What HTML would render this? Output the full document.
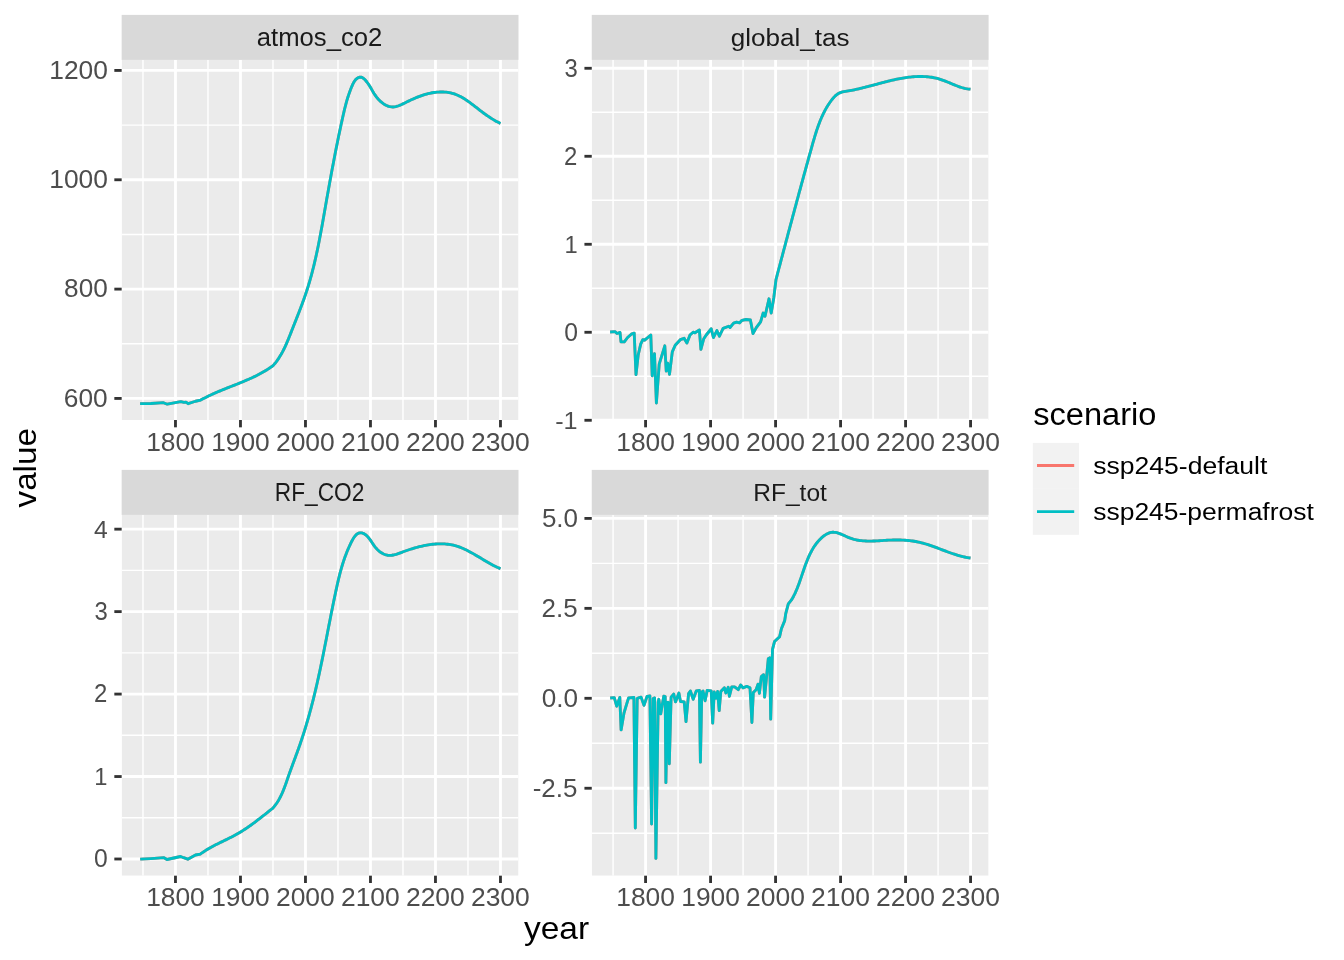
<!DOCTYPE html><html><head><meta charset="utf-8"><title>ggplot facets</title><style>html,body{margin:0;padding:0;background:#fff;}svg{display:block;will-change:transform;}text{font-family:"Liberation Sans",sans-serif;}</style></head><body>
<svg width="1344" height="960" viewBox="0 0 1344 960">
<rect x="0" y="0" width="1344" height="960" fill="#fff"/>
<clipPath id="clip1"><rect x="121.66" y="59.9" width="396.84" height="360.1"/></clipPath>
<rect x="121.66" y="14.9" width="396.84" height="45" fill="#D9D9D9"/>
<g clip-path="url(#clip1)">
<rect x="121.66" y="59.9" width="396.84" height="360.1" fill="#EBEBEB"/>
<line x1="121.66" x2="518.5" y1="343.77" y2="343.77" stroke="#fff" stroke-width="1.42"/>
<line x1="121.66" x2="518.5" y1="234.44" y2="234.44" stroke="#fff" stroke-width="1.42"/>
<line x1="121.66" x2="518.5" y1="125.11" y2="125.11" stroke="#fff" stroke-width="1.42"/>
<line x1="142.97" x2="142.97" y1="59.9" y2="420" stroke="#fff" stroke-width="1.42"/>
<line x1="207.97" x2="207.97" y1="59.9" y2="420" stroke="#fff" stroke-width="1.42"/>
<line x1="272.97" x2="272.97" y1="59.9" y2="420" stroke="#fff" stroke-width="1.42"/>
<line x1="337.97" x2="337.97" y1="59.9" y2="420" stroke="#fff" stroke-width="1.42"/>
<line x1="402.97" x2="402.97" y1="59.9" y2="420" stroke="#fff" stroke-width="1.42"/>
<line x1="467.97" x2="467.97" y1="59.9" y2="420" stroke="#fff" stroke-width="1.42"/>
<line x1="121.66" x2="518.5" y1="398.44" y2="398.44" stroke="#fff" stroke-width="2.84"/>
<line x1="121.66" x2="518.5" y1="289.11" y2="289.11" stroke="#fff" stroke-width="2.84"/>
<line x1="121.66" x2="518.5" y1="179.77" y2="179.77" stroke="#fff" stroke-width="2.84"/>
<line x1="121.66" x2="518.5" y1="70.44" y2="70.44" stroke="#fff" stroke-width="2.84"/>
<line x1="175.47" x2="175.47" y1="59.9" y2="420" stroke="#fff" stroke-width="2.84"/>
<line x1="240.47" x2="240.47" y1="59.9" y2="420" stroke="#fff" stroke-width="2.84"/>
<line x1="305.47" x2="305.47" y1="59.9" y2="420" stroke="#fff" stroke-width="2.84"/>
<line x1="370.47" x2="370.47" y1="59.9" y2="420" stroke="#fff" stroke-width="2.84"/>
<line x1="435.47" x2="435.47" y1="59.9" y2="420" stroke="#fff" stroke-width="2.84"/>
<line x1="500.47" x2="500.47" y1="59.9" y2="420" stroke="#fff" stroke-width="2.84"/>
<path d="M140.1 403.6 L150.9 403.5 L163.5 402.7 L167.25 404.2 L180.8 401.6 L183.9 402.4 L186 402.2 L188.1 403.7 L195.5 401.25 L200.7 400.1 L202.05 399.35 L203.41 398.61 L204.77 397.89 L206.15 397.19 L207.53 396.5 L208.92 395.82 L210.31 395.16 L211.71 394.51 L213.11 393.87 L214.52 393.24 L215.94 392.62 L217.35 392.01 L218.78 391.41 L220.2 390.82 L221.63 390.23 L223.06 389.64 L224.49 389.07 L225.93 388.49 L227.37 387.92 L228.8 387.35 L230.24 386.79 L231.68 386.22 L233.12 385.66 L234.56 385.09 L236 384.52 L237.44 383.95 L238.87 383.38 L240.3 382.8 L241.73 382.22 L243.16 381.63 L244.59 381.03 L246.01 380.43 L247.43 379.82 L248.84 379.2 L250.25 378.57 L251.65 377.93 L253.05 377.28 L254.44 376.62 L255.83 375.94 L257.21 375.25 L258.58 374.55 L259.94 373.83 L261.3 373.09 L262.65 372.34 L263.99 371.57 L265.32 370.78 L266.64 369.97 L267.96 369.14 L269.26 368.29 L270.55 367.41 L271.83 366.52 L273.1 365.6 L274.11 364.44 L275.08 363.26 L276.02 362.06 L276.93 360.84 L277.8 359.61 L278.65 358.36 L279.46 357.1 L280.25 355.82 L281.02 354.53 L281.76 353.22 L282.48 351.91 L283.17 350.58 L283.85 349.24 L284.51 347.89 L285.15 346.53 L285.78 345.17 L286.39 343.8 L286.99 342.42 L287.58 341.03 L288.16 339.64 L288.73 338.24 L289.29 336.84 L289.85 335.44 L290.41 334.03 L290.96 332.62 L291.51 331.22 L292.06 329.81 L292.62 328.4 L293.17 326.99 L293.73 325.58 L294.29 324.18 L294.84 322.77 L295.4 321.36 L295.96 319.95 L296.51 318.54 L297.07 317.14 L297.62 315.73 L298.17 314.32 L298.72 312.91 L299.27 311.5 L299.82 310.09 L300.36 308.67 L300.89 307.26 L301.43 305.84 L301.96 304.43 L302.48 303.01 L303 301.59 L303.51 300.17 L304.02 298.75 L304.53 297.33 L305.02 295.91 L305.51 294.48 L305.99 293.05 L306.47 291.62 L306.94 290.19 L307.4 288.75 L307.85 287.32 L308.3 285.88 L308.73 284.44 L309.17 283 L309.59 281.55 L310.01 280.11 L310.42 278.66 L310.83 277.21 L311.22 275.76 L311.62 274.3 L312 272.85 L312.39 271.39 L312.76 269.94 L313.13 268.48 L313.49 267.02 L313.85 265.55 L314.21 264.09 L314.56 262.63 L314.9 261.16 L315.24 259.69 L315.58 258.22 L315.91 256.75 L316.23 255.28 L316.55 253.81 L316.87 252.34 L317.19 250.86 L317.5 249.39 L317.8 247.91 L318.11 246.43 L318.41 244.95 L318.7 243.47 L319 241.99 L319.29 240.51 L319.57 239.03 L319.86 237.55 L320.14 236.06 L320.42 234.58 L320.7 233.09 L320.98 231.61 L321.25 230.12 L321.52 228.64 L321.79 227.15 L322.06 225.66 L322.33 224.17 L322.6 222.69 L322.86 221.2 L323.12 219.71 L323.39 218.22 L323.65 216.73 L323.91 215.24 L324.17 213.75 L324.44 212.26 L324.7 210.77 L324.96 209.28 L325.22 207.79 L325.48 206.3 L325.74 204.81 L326 203.32 L326.27 201.83 L326.53 200.34 L326.79 198.85 L327.06 197.36 L327.32 195.87 L327.59 194.38 L327.85 192.89 L328.12 191.4 L328.39 189.91 L328.65 188.42 L328.92 186.93 L329.19 185.44 L329.46 183.96 L329.73 182.47 L330 180.98 L330.27 179.49 L330.54 178.01 L330.82 176.52 L331.09 175.03 L331.36 173.55 L331.64 172.06 L331.92 170.57 L332.19 169.09 L332.47 167.6 L332.75 166.12 L333.03 164.64 L333.31 163.15 L333.6 161.67 L333.88 160.19 L334.16 158.71 L334.45 157.22 L334.74 155.74 L335.02 154.26 L335.31 152.78 L335.6 151.3 L335.9 149.82 L336.19 148.35 L336.48 146.87 L336.78 145.39 L337.08 143.92 L337.37 142.44 L337.67 140.96 L337.97 139.49 L338.28 138.02 L338.58 136.54 L338.88 135.07 L339.19 133.6 L339.5 132.13 L339.81 130.66 L340.12 129.19 L340.43 127.72 L340.75 126.25 L341.06 124.79 L341.38 123.32 L341.7 121.86 L342.02 120.39 L342.34 118.93 L342.67 117.46 L343 116 L343.33 114.54 L343.66 113.08 L344 111.62 L344.35 110.16 L344.7 108.7 L345.07 107.25 L345.44 105.79 L345.82 104.33 L346.22 102.87 L346.63 101.42 L347.05 99.96 L347.49 98.5 L347.94 97.04 L348.42 95.58 L348.91 94.13 L349.41 92.67 L349.94 91.21 L350.49 89.75 L351.07 88.29 L351.66 86.83 L352.29 85.37 L352.95 83.94 L353.66 82.56 L354.44 81.27 L355.31 80.09 L356.27 79.06 L357.33 78.18 L358.52 77.52 L359.79 77.16 L361.09 77.21 L362.39 77.66 L363.63 78.48 L364.79 79.56 L365.87 80.76 L366.87 81.99 L367.8 83.24 L368.67 84.5 L369.49 85.77 L370.27 87.05 L371.02 88.33 L371.76 89.61 L372.5 90.89 L373.25 92.16 L374.01 93.42 L374.81 94.67 L375.66 95.91 L376.55 97.12 L377.52 98.31 L378.56 99.48 L379.66 100.6 L380.82 101.67 L382.04 102.67 L383.3 103.6 L384.6 104.44 L385.94 105.18 L387.31 105.81 L388.7 106.31 L390.11 106.68 L391.54 106.9 L392.96 106.97 L394.39 106.86 L395.82 106.61 L397.25 106.24 L398.67 105.76 L400.09 105.19 L401.51 104.56 L402.92 103.89 L404.32 103.2 L405.72 102.5 L407.11 101.82 L408.5 101.14 L409.88 100.48 L411.26 99.83 L412.64 99.2 L414.02 98.59 L415.4 97.99 L416.78 97.41 L418.16 96.85 L419.55 96.32 L420.94 95.81 L422.34 95.32 L423.75 94.86 L425.16 94.43 L426.59 94.03 L428.03 93.66 L429.48 93.32 L430.94 93.02 L432.42 92.75 L433.91 92.51 L435.42 92.32 L436.95 92.16 L438.49 92.05 L440.03 91.98 L441.58 91.96 L443.13 91.99 L444.67 92.06 L446.2 92.19 L447.72 92.38 L449.23 92.62 L450.71 92.92 L452.17 93.29 L453.6 93.71 L455.01 94.19 L456.4 94.72 L457.77 95.3 L459.12 95.92 L460.45 96.59 L461.76 97.3 L463.06 98.04 L464.34 98.82 L465.61 99.63 L466.87 100.47 L468.12 101.33 L469.35 102.21 L470.58 103.1 L471.8 104.02 L473.01 104.94 L474.22 105.87 L475.42 106.81 L476.62 107.74 L477.82 108.68 L479.02 109.61 L480.22 110.54 L481.42 111.45 L482.63 112.35 L483.83 113.25 L485.05 114.13 L486.27 115 L487.5 115.85 L488.73 116.69 L489.98 117.52 L491.24 118.33 L492.52 119.12 L493.8 119.9 L495.11 120.66 L496.43 121.4 L497.77 122.12 L499.12 122.82 L500.5 123.5" fill="none" stroke="#F8766D" stroke-width="2.84" stroke-linejoin="round" stroke-linecap="butt"/>
<path d="M140.1 403.6 L150.9 403.5 L163.5 402.7 L167.25 404.2 L180.8 401.6 L183.9 402.4 L186 402.2 L188.1 403.7 L195.5 401.25 L200.7 400.1 L202.05 399.35 L203.41 398.61 L204.77 397.89 L206.15 397.19 L207.53 396.5 L208.92 395.82 L210.31 395.16 L211.71 394.51 L213.11 393.87 L214.52 393.24 L215.94 392.62 L217.35 392.01 L218.78 391.41 L220.2 390.82 L221.63 390.23 L223.06 389.64 L224.49 389.07 L225.93 388.49 L227.37 387.92 L228.8 387.35 L230.24 386.79 L231.68 386.22 L233.12 385.66 L234.56 385.09 L236 384.52 L237.44 383.95 L238.87 383.38 L240.3 382.8 L241.73 382.22 L243.16 381.63 L244.59 381.03 L246.01 380.43 L247.43 379.82 L248.84 379.2 L250.25 378.57 L251.65 377.93 L253.05 377.28 L254.44 376.62 L255.83 375.94 L257.21 375.25 L258.58 374.55 L259.94 373.83 L261.3 373.09 L262.65 372.34 L263.99 371.57 L265.32 370.78 L266.64 369.97 L267.96 369.14 L269.26 368.29 L270.55 367.41 L271.83 366.52 L273.1 365.6 L274.11 364.44 L275.08 363.26 L276.02 362.06 L276.93 360.84 L277.8 359.61 L278.65 358.36 L279.46 357.1 L280.25 355.82 L281.02 354.53 L281.76 353.22 L282.48 351.91 L283.17 350.58 L283.85 349.24 L284.51 347.89 L285.15 346.53 L285.78 345.17 L286.39 343.8 L286.99 342.42 L287.58 341.03 L288.16 339.64 L288.73 338.24 L289.29 336.84 L289.85 335.44 L290.41 334.03 L290.96 332.62 L291.51 331.22 L292.06 329.81 L292.62 328.4 L293.17 326.99 L293.73 325.58 L294.29 324.18 L294.84 322.77 L295.4 321.36 L295.96 319.95 L296.51 318.54 L297.07 317.14 L297.62 315.73 L298.17 314.32 L298.72 312.91 L299.27 311.5 L299.82 310.09 L300.36 308.67 L300.89 307.26 L301.43 305.84 L301.96 304.43 L302.48 303.01 L303 301.59 L303.51 300.17 L304.02 298.75 L304.53 297.33 L305.02 295.91 L305.51 294.48 L305.99 293.05 L306.47 291.62 L306.94 290.19 L307.4 288.75 L307.85 287.32 L308.3 285.88 L308.73 284.44 L309.17 283 L309.59 281.55 L310.01 280.11 L310.42 278.66 L310.83 277.21 L311.22 275.76 L311.62 274.3 L312 272.85 L312.39 271.39 L312.76 269.94 L313.13 268.48 L313.49 267.02 L313.85 265.55 L314.21 264.09 L314.56 262.63 L314.9 261.16 L315.24 259.69 L315.58 258.22 L315.91 256.75 L316.23 255.28 L316.55 253.81 L316.87 252.34 L317.19 250.86 L317.5 249.39 L317.8 247.91 L318.11 246.43 L318.41 244.95 L318.7 243.47 L319 241.99 L319.29 240.51 L319.57 239.03 L319.86 237.55 L320.14 236.06 L320.42 234.58 L320.7 233.09 L320.98 231.61 L321.25 230.12 L321.52 228.64 L321.79 227.15 L322.06 225.66 L322.33 224.17 L322.6 222.69 L322.86 221.2 L323.12 219.71 L323.39 218.22 L323.65 216.73 L323.91 215.24 L324.17 213.75 L324.44 212.26 L324.7 210.77 L324.96 209.28 L325.22 207.79 L325.48 206.3 L325.74 204.81 L326 203.32 L326.27 201.83 L326.53 200.34 L326.79 198.85 L327.06 197.36 L327.32 195.87 L327.59 194.38 L327.85 192.89 L328.12 191.4 L328.39 189.91 L328.65 188.42 L328.92 186.93 L329.19 185.44 L329.46 183.96 L329.73 182.47 L330 180.98 L330.27 179.49 L330.54 178.01 L330.82 176.52 L331.09 175.03 L331.36 173.55 L331.64 172.06 L331.92 170.57 L332.19 169.09 L332.47 167.6 L332.75 166.12 L333.03 164.64 L333.31 163.15 L333.6 161.67 L333.88 160.19 L334.16 158.71 L334.45 157.22 L334.74 155.74 L335.02 154.26 L335.31 152.78 L335.6 151.3 L335.9 149.82 L336.19 148.35 L336.48 146.87 L336.78 145.39 L337.08 143.92 L337.37 142.44 L337.67 140.96 L337.97 139.49 L338.28 138.02 L338.58 136.54 L338.88 135.07 L339.19 133.6 L339.5 132.13 L339.81 130.66 L340.12 129.19 L340.43 127.72 L340.75 126.25 L341.06 124.79 L341.38 123.32 L341.7 121.86 L342.02 120.39 L342.34 118.93 L342.67 117.46 L343 116 L343.33 114.54 L343.66 113.08 L344 111.62 L344.35 110.16 L344.7 108.7 L345.07 107.25 L345.44 105.79 L345.82 104.33 L346.22 102.87 L346.63 101.42 L347.05 99.96 L347.49 98.5 L347.94 97.04 L348.42 95.58 L348.91 94.13 L349.41 92.67 L349.94 91.21 L350.49 89.75 L351.07 88.29 L351.66 86.83 L352.29 85.37 L352.95 83.94 L353.66 82.56 L354.44 81.27 L355.31 80.09 L356.27 79.06 L357.33 78.18 L358.52 77.52 L359.79 77.16 L361.09 77.21 L362.39 77.66 L363.63 78.48 L364.79 79.56 L365.87 80.76 L366.87 81.99 L367.8 83.24 L368.67 84.5 L369.49 85.77 L370.27 87.05 L371.02 88.33 L371.76 89.61 L372.5 90.89 L373.25 92.16 L374.01 93.42 L374.81 94.67 L375.66 95.91 L376.55 97.12 L377.52 98.31 L378.56 99.48 L379.66 100.6 L380.82 101.67 L382.04 102.67 L383.3 103.6 L384.6 104.44 L385.94 105.18 L387.31 105.81 L388.7 106.31 L390.11 106.68 L391.54 106.9 L392.96 106.97 L394.39 106.86 L395.82 106.61 L397.25 106.24 L398.67 105.76 L400.09 105.19 L401.51 104.56 L402.92 103.89 L404.32 103.2 L405.72 102.5 L407.11 101.82 L408.5 101.14 L409.88 100.48 L411.26 99.83 L412.64 99.2 L414.02 98.59 L415.4 97.99 L416.78 97.41 L418.16 96.85 L419.55 96.32 L420.94 95.81 L422.34 95.32 L423.75 94.86 L425.16 94.43 L426.59 94.03 L428.03 93.66 L429.48 93.32 L430.94 93.02 L432.42 92.75 L433.91 92.51 L435.42 92.32 L436.95 92.16 L438.49 92.05 L440.03 91.98 L441.58 91.96 L443.13 91.99 L444.67 92.06 L446.2 92.19 L447.72 92.38 L449.23 92.62 L450.71 92.92 L452.17 93.29 L453.6 93.71 L455.01 94.19 L456.4 94.72 L457.77 95.3 L459.12 95.92 L460.45 96.59 L461.76 97.3 L463.06 98.04 L464.34 98.82 L465.61 99.63 L466.87 100.47 L468.12 101.33 L469.35 102.21 L470.58 103.1 L471.8 104.02 L473.01 104.94 L474.22 105.87 L475.42 106.81 L476.62 107.74 L477.82 108.68 L479.02 109.61 L480.22 110.54 L481.42 111.45 L482.63 112.35 L483.83 113.25 L485.05 114.13 L486.27 115 L487.5 115.85 L488.73 116.69 L489.98 117.52 L491.24 118.33 L492.52 119.12 L493.8 119.9 L495.11 120.66 L496.43 121.4 L497.77 122.12 L499.12 122.82 L500.5 123.5" fill="none" stroke="#00BFC4" stroke-width="2.84" stroke-linejoin="round" stroke-linecap="butt"/>
</g>
<line x1="114.33" x2="121.66" y1="398.44" y2="398.44" stroke="#333333" stroke-width="2.84"/>
<line x1="114.33" x2="121.66" y1="289.11" y2="289.11" stroke="#333333" stroke-width="2.84"/>
<line x1="114.33" x2="121.66" y1="179.77" y2="179.77" stroke="#333333" stroke-width="2.84"/>
<line x1="114.33" x2="121.66" y1="70.44" y2="70.44" stroke="#333333" stroke-width="2.84"/>
<line x1="175.47" x2="175.47" y1="420" y2="427.33" stroke="#333333" stroke-width="2.84"/>
<line x1="240.47" x2="240.47" y1="420" y2="427.33" stroke="#333333" stroke-width="2.84"/>
<line x1="305.47" x2="305.47" y1="420" y2="427.33" stroke="#333333" stroke-width="2.84"/>
<line x1="370.47" x2="370.47" y1="420" y2="427.33" stroke="#333333" stroke-width="2.84"/>
<line x1="435.47" x2="435.47" y1="420" y2="427.33" stroke="#333333" stroke-width="2.84"/>
<line x1="500.47" x2="500.47" y1="420" y2="427.33" stroke="#333333" stroke-width="2.84"/>
<text transform="matrix(1.1210 0 0 1.0608 63.86 406.8)" font-size="23.47" fill="#4D4D4D">600</text>
<text transform="matrix(1.1150 0 0 1.0608 64.09 297.47)" font-size="23.47" fill="#4D4D4D">800</text>
<text transform="matrix(1.1230 0 0 1.0608 49.24 188.13)" font-size="23.47" fill="#4D4D4D">1000</text>
<text transform="matrix(1.1230 0 0 1.0608 49.24 78.8)" font-size="23.47" fill="#4D4D4D">1200</text>
<text transform="matrix(1.1230 0 0 1.0608 146.15 450.8)" font-size="23.47" fill="#4D4D4D">1800</text>
<text transform="matrix(1.1230 0 0 1.0608 211.15 450.8)" font-size="23.47" fill="#4D4D4D">1900</text>
<text transform="matrix(1.1275 0 0 1.0608 275.92 450.8)" font-size="23.47" fill="#4D4D4D">2000</text>
<text transform="matrix(1.1275 0 0 1.0608 340.92 450.8)" font-size="23.47" fill="#4D4D4D">2100</text>
<text transform="matrix(1.1275 0 0 1.0608 405.92 450.8)" font-size="23.47" fill="#4D4D4D">2200</text>
<text transform="matrix(1.1275 0 0 1.0608 470.92 450.8)" font-size="23.47" fill="#4D4D4D">2300</text>
<text transform="matrix(1.0940 0 0 1.0608 256.83 45.85)" font-size="23.47" fill="#1A1A1A">atmos_co2</text>
<clipPath id="clip2"><rect x="591.76" y="59.9" width="396.84" height="360.1"/></clipPath>
<rect x="591.76" y="14.9" width="396.84" height="45" fill="#D9D9D9"/>
<g clip-path="url(#clip2)">
<rect x="591.76" y="59.9" width="396.84" height="360.1" fill="#EBEBEB"/>
<line x1="591.76" x2="988.6" y1="376.28" y2="376.28" stroke="#fff" stroke-width="1.42"/>
<line x1="591.76" x2="988.6" y1="288.28" y2="288.28" stroke="#fff" stroke-width="1.42"/>
<line x1="591.76" x2="988.6" y1="200.28" y2="200.28" stroke="#fff" stroke-width="1.42"/>
<line x1="591.76" x2="988.6" y1="112.28" y2="112.28" stroke="#fff" stroke-width="1.42"/>
<line x1="613.07" x2="613.07" y1="59.9" y2="420" stroke="#fff" stroke-width="1.42"/>
<line x1="678.07" x2="678.07" y1="59.9" y2="420" stroke="#fff" stroke-width="1.42"/>
<line x1="743.07" x2="743.07" y1="59.9" y2="420" stroke="#fff" stroke-width="1.42"/>
<line x1="808.07" x2="808.07" y1="59.9" y2="420" stroke="#fff" stroke-width="1.42"/>
<line x1="873.07" x2="873.07" y1="59.9" y2="420" stroke="#fff" stroke-width="1.42"/>
<line x1="938.07" x2="938.07" y1="59.9" y2="420" stroke="#fff" stroke-width="1.42"/>
<line x1="591.76" x2="988.6" y1="420.28" y2="420.28" stroke="#fff" stroke-width="2.84"/>
<line x1="591.76" x2="988.6" y1="332.28" y2="332.28" stroke="#fff" stroke-width="2.84"/>
<line x1="591.76" x2="988.6" y1="244.28" y2="244.28" stroke="#fff" stroke-width="2.84"/>
<line x1="591.76" x2="988.6" y1="156.28" y2="156.28" stroke="#fff" stroke-width="2.84"/>
<line x1="591.76" x2="988.6" y1="68.28" y2="68.28" stroke="#fff" stroke-width="2.84"/>
<line x1="645.57" x2="645.57" y1="59.9" y2="420" stroke="#fff" stroke-width="2.84"/>
<line x1="710.57" x2="710.57" y1="59.9" y2="420" stroke="#fff" stroke-width="2.84"/>
<line x1="775.57" x2="775.57" y1="59.9" y2="420" stroke="#fff" stroke-width="2.84"/>
<line x1="840.57" x2="840.57" y1="59.9" y2="420" stroke="#fff" stroke-width="2.84"/>
<line x1="905.57" x2="905.57" y1="59.9" y2="420" stroke="#fff" stroke-width="2.84"/>
<line x1="970.57" x2="970.57" y1="59.9" y2="420" stroke="#fff" stroke-width="2.84"/>
<path d="M610.1 332 L615.2 331.7 L617 333.5 L620 332.4 L621 341.9 L624.3 341.9 L627.6 337.5 L631.3 334.2 L634.2 333.1 L636 374.7 L638.2 355 L640.7 344.1 L642.8 339.7 L644.7 340.2 L650.8 335 L652.2 375.8 L654.5 353.75 L656.4 403 L659.2 364.1 L664.8 345.8 L666.25 371.1 L667.7 363.1 L669.5 374.4 L672.3 351.9 L675.2 345.3 L680.3 339.7 L684.1 338.3 L686.9 343.1 L690 335 L693.1 332.2 L695 332.8 L699.4 330 L700.9 349.4 L703.75 338.75 L706.25 335 L711.25 328.75 L713.4 337.5 L716.9 330.6 L719.4 336.25 L723.1 328.4 L728.75 326.25 L730 327.5 L733.6 323.2 L736.6 322.2 L739.5 322.9 L742 320.3 L746 319.5 L750.4 320 L753 333.5 L756.3 327.6 L760.6 321.8 L763.2 313 L765 316.3 L769 298.8 L771.2 313 L773.8 297.7 L776 279.5 L776.39 278.03 L776.78 276.56 L777.17 275.09 L777.55 273.62 L777.94 272.15 L778.33 270.68 L778.72 269.22 L779.11 267.75 L779.49 266.28 L779.88 264.82 L780.27 263.35 L780.66 261.89 L781.04 260.43 L781.43 258.96 L781.82 257.5 L782.21 256.04 L782.59 254.58 L782.98 253.12 L783.37 251.66 L783.76 250.2 L784.14 248.74 L784.53 247.28 L784.92 245.82 L785.31 244.36 L785.7 242.9 L786.08 241.44 L786.47 239.98 L786.86 238.53 L787.25 237.07 L787.64 235.61 L788.02 234.16 L788.41 232.7 L788.8 231.24 L789.19 229.79 L789.58 228.33 L789.97 226.88 L790.36 225.42 L790.75 223.96 L791.14 222.51 L791.53 221.05 L791.92 219.6 L792.31 218.14 L792.7 216.69 L793.09 215.24 L793.48 213.78 L793.87 212.33 L794.26 210.87 L794.65 209.42 L795.04 207.96 L795.44 206.51 L795.83 205.05 L796.22 203.6 L796.61 202.14 L797.01 200.69 L797.4 199.23 L797.79 197.78 L798.19 196.32 L798.58 194.87 L798.98 193.41 L799.37 191.96 L799.77 190.5 L800.17 189.04 L800.56 187.59 L800.96 186.13 L801.36 184.67 L801.75 183.22 L802.15 181.76 L802.55 180.3 L802.95 178.84 L803.35 177.38 L803.75 175.92 L804.15 174.46 L804.55 173 L804.95 171.54 L805.36 170.08 L805.76 168.62 L806.16 167.16 L806.56 165.7 L806.97 164.24 L807.37 162.77 L807.78 161.31 L808.18 159.85 L808.59 158.38 L809 156.92 L809.4 155.45 L809.81 153.99 L810.22 152.52 L810.63 151.05 L811.04 149.58 L811.45 148.12 L811.86 146.65 L812.27 145.18 L812.69 143.71 L813.1 142.24 L813.53 140.77 L813.95 139.3 L814.38 137.84 L814.82 136.38 L815.26 134.92 L815.71 133.46 L816.17 132.01 L816.64 130.56 L817.13 129.12 L817.62 127.68 L818.12 126.25 L818.64 124.82 L819.17 123.4 L819.71 121.99 L820.27 120.59 L820.85 119.19 L821.44 117.8 L822.06 116.42 L822.69 115.05 L823.34 113.69 L824.01 112.34 L824.7 111 L825.41 109.67 L826.15 108.35 L826.91 107.05 L827.69 105.76 L828.51 104.48 L829.34 103.21 L830.21 101.96 L831.1 100.73 L832.02 99.51 L832.98 98.33 L833.98 97.2 L835.02 96.13 L836.11 95.15 L837.26 94.26 L838.47 93.48 L839.75 92.82 L841.09 92.31 L842.5 91.92 L843.96 91.62 L845.44 91.37 L846.93 91.14 L848.43 90.9 L849.92 90.64 L851.41 90.36 L852.9 90.07 L854.38 89.77 L855.86 89.46 L857.34 89.13 L858.82 88.8 L860.3 88.45 L861.78 88.1 L863.25 87.74 L864.72 87.37 L866.2 86.99 L867.67 86.61 L869.14 86.23 L870.61 85.84 L872.07 85.45 L873.54 85.05 L875.01 84.66 L876.48 84.26 L877.94 83.87 L879.41 83.48 L880.88 83.08 L882.34 82.7 L883.81 82.31 L885.28 81.93 L886.75 81.56 L888.22 81.19 L889.69 80.83 L891.16 80.48 L892.63 80.14 L894.1 79.81 L895.58 79.48 L897.06 79.17 L898.53 78.88 L900.01 78.59 L901.49 78.32 L902.98 78.07 L904.46 77.83 L905.95 77.6 L907.44 77.4 L908.93 77.21 L910.42 77.04 L911.92 76.9 L913.42 76.77 L914.92 76.67 L916.43 76.59 L917.94 76.53 L919.44 76.5 L920.95 76.49 L922.46 76.51 L923.96 76.56 L925.46 76.64 L926.96 76.75 L928.46 76.89 L929.95 77.07 L931.44 77.28 L932.93 77.52 L934.41 77.8 L935.88 78.12 L937.34 78.48 L938.8 78.87 L940.25 79.31 L941.69 79.79 L943.12 80.29 L944.55 80.83 L945.97 81.39 L947.39 81.96 L948.8 82.55 L950.22 83.15 L951.63 83.74 L953.04 84.34 L954.46 84.92 L955.88 85.49 L957.3 86.04 L958.73 86.56 L960.17 87.05 L961.61 87.51 L963.07 87.93 L964.53 88.3 L966 88.61 L967.49 88.87 L968.99 89.07 L970.5 89.2" fill="none" stroke="#F8766D" stroke-width="2.84" stroke-linejoin="round" stroke-linecap="butt"/>
<path d="M610.1 332 L615.2 331.7 L617 333.5 L620 332.4 L621 341.9 L624.3 341.9 L627.6 337.5 L631.3 334.2 L634.2 333.1 L636 374.7 L638.2 355 L640.7 344.1 L642.8 339.7 L644.7 340.2 L650.8 335 L652.2 375.8 L654.5 353.75 L656.4 403 L659.2 364.1 L664.8 345.8 L666.25 371.1 L667.7 363.1 L669.5 374.4 L672.3 351.9 L675.2 345.3 L680.3 339.7 L684.1 338.3 L686.9 343.1 L690 335 L693.1 332.2 L695 332.8 L699.4 330 L700.9 349.4 L703.75 338.75 L706.25 335 L711.25 328.75 L713.4 337.5 L716.9 330.6 L719.4 336.25 L723.1 328.4 L728.75 326.25 L730 327.5 L733.6 323.2 L736.6 322.2 L739.5 322.9 L742 320.3 L746 319.5 L750.4 320 L753 333.5 L756.3 327.6 L760.6 321.8 L763.2 313 L765 316.3 L769 298.8 L771.2 313 L773.8 297.7 L776 279.5 L776.39 278.03 L776.78 276.56 L777.17 275.09 L777.55 273.62 L777.94 272.15 L778.33 270.68 L778.72 269.22 L779.11 267.75 L779.49 266.28 L779.88 264.82 L780.27 263.35 L780.66 261.89 L781.04 260.43 L781.43 258.96 L781.82 257.5 L782.21 256.04 L782.59 254.58 L782.98 253.12 L783.37 251.66 L783.76 250.2 L784.14 248.74 L784.53 247.28 L784.92 245.82 L785.31 244.36 L785.7 242.9 L786.08 241.44 L786.47 239.98 L786.86 238.53 L787.25 237.07 L787.64 235.61 L788.02 234.16 L788.41 232.7 L788.8 231.24 L789.19 229.79 L789.58 228.33 L789.97 226.88 L790.36 225.42 L790.75 223.96 L791.14 222.51 L791.53 221.05 L791.92 219.6 L792.31 218.14 L792.7 216.69 L793.09 215.24 L793.48 213.78 L793.87 212.33 L794.26 210.87 L794.65 209.42 L795.04 207.96 L795.44 206.51 L795.83 205.05 L796.22 203.6 L796.61 202.14 L797.01 200.69 L797.4 199.23 L797.79 197.78 L798.19 196.32 L798.58 194.87 L798.98 193.41 L799.37 191.96 L799.77 190.5 L800.17 189.04 L800.56 187.59 L800.96 186.13 L801.36 184.67 L801.75 183.22 L802.15 181.76 L802.55 180.3 L802.95 178.84 L803.35 177.38 L803.75 175.92 L804.15 174.46 L804.55 173 L804.95 171.54 L805.36 170.08 L805.76 168.62 L806.16 167.16 L806.56 165.7 L806.97 164.24 L807.37 162.77 L807.78 161.31 L808.18 159.85 L808.59 158.38 L809 156.92 L809.4 155.45 L809.81 153.99 L810.22 152.52 L810.63 151.05 L811.04 149.58 L811.45 148.12 L811.86 146.65 L812.27 145.18 L812.69 143.71 L813.1 142.24 L813.53 140.77 L813.95 139.3 L814.38 137.84 L814.82 136.38 L815.26 134.92 L815.71 133.46 L816.17 132.01 L816.64 130.56 L817.13 129.12 L817.62 127.68 L818.12 126.25 L818.64 124.82 L819.17 123.4 L819.71 121.99 L820.27 120.59 L820.85 119.19 L821.44 117.8 L822.06 116.42 L822.69 115.05 L823.34 113.69 L824.01 112.34 L824.7 111 L825.41 109.67 L826.15 108.35 L826.91 107.05 L827.69 105.76 L828.51 104.48 L829.34 103.21 L830.21 101.96 L831.1 100.73 L832.02 99.51 L832.98 98.33 L833.98 97.2 L835.02 96.13 L836.11 95.15 L837.26 94.26 L838.47 93.48 L839.75 92.82 L841.09 92.31 L842.5 91.92 L843.96 91.62 L845.44 91.37 L846.93 91.14 L848.43 90.9 L849.92 90.64 L851.41 90.36 L852.9 90.07 L854.38 89.77 L855.86 89.46 L857.34 89.13 L858.82 88.8 L860.3 88.45 L861.78 88.1 L863.25 87.74 L864.72 87.37 L866.2 86.99 L867.67 86.61 L869.14 86.23 L870.61 85.84 L872.07 85.45 L873.54 85.05 L875.01 84.66 L876.48 84.26 L877.94 83.87 L879.41 83.48 L880.88 83.08 L882.34 82.7 L883.81 82.31 L885.28 81.93 L886.75 81.56 L888.22 81.19 L889.69 80.83 L891.16 80.48 L892.63 80.14 L894.1 79.81 L895.58 79.48 L897.06 79.17 L898.53 78.88 L900.01 78.59 L901.49 78.32 L902.98 78.07 L904.46 77.83 L905.95 77.6 L907.44 77.4 L908.93 77.21 L910.42 77.04 L911.92 76.9 L913.42 76.77 L914.92 76.67 L916.43 76.59 L917.94 76.53 L919.44 76.5 L920.95 76.49 L922.46 76.51 L923.96 76.56 L925.46 76.64 L926.96 76.75 L928.46 76.89 L929.95 77.07 L931.44 77.28 L932.93 77.52 L934.41 77.8 L935.88 78.12 L937.34 78.48 L938.8 78.87 L940.25 79.31 L941.69 79.79 L943.12 80.29 L944.55 80.83 L945.97 81.39 L947.39 81.96 L948.8 82.55 L950.22 83.15 L951.63 83.74 L953.04 84.34 L954.46 84.92 L955.88 85.49 L957.3 86.04 L958.73 86.56 L960.17 87.05 L961.61 87.51 L963.07 87.93 L964.53 88.3 L966 88.61 L967.49 88.87 L968.99 89.07 L970.5 89.2" fill="none" stroke="#00BFC4" stroke-width="2.84" stroke-linejoin="round" stroke-linecap="butt"/>
</g>
<line x1="584.43" x2="591.76" y1="420.28" y2="420.28" stroke="#333333" stroke-width="2.84"/>
<line x1="584.43" x2="591.76" y1="332.28" y2="332.28" stroke="#333333" stroke-width="2.84"/>
<line x1="584.43" x2="591.76" y1="244.28" y2="244.28" stroke="#333333" stroke-width="2.84"/>
<line x1="584.43" x2="591.76" y1="156.28" y2="156.28" stroke="#333333" stroke-width="2.84"/>
<line x1="584.43" x2="591.76" y1="68.28" y2="68.28" stroke="#333333" stroke-width="2.84"/>
<line x1="645.57" x2="645.57" y1="420" y2="427.33" stroke="#333333" stroke-width="2.84"/>
<line x1="710.57" x2="710.57" y1="420" y2="427.33" stroke="#333333" stroke-width="2.84"/>
<line x1="775.57" x2="775.57" y1="420" y2="427.33" stroke="#333333" stroke-width="2.84"/>
<line x1="840.57" x2="840.57" y1="420" y2="427.33" stroke="#333333" stroke-width="2.84"/>
<line x1="905.57" x2="905.57" y1="420" y2="427.33" stroke="#333333" stroke-width="2.84"/>
<line x1="970.57" x2="970.57" y1="420" y2="427.33" stroke="#333333" stroke-width="2.84"/>
<text transform="matrix(1.0745 0 0 1.0554 555.16 428.64)" font-size="23.47" fill="#4D4D4D">-1</text>
<text transform="matrix(1.0531 0 0 1.0608 564.16 340.64)" font-size="23.47" fill="#4D4D4D">0</text>
<text transform="matrix(1.0099 0 0 1.0554 564.39 252.64)" font-size="23.47" fill="#4D4D4D">1</text>
<text transform="matrix(1.0187 0 0 1.0608 564.09 164.64)" font-size="23.47" fill="#4D4D4D">2</text>
<text transform="matrix(1.0180 0 0 1.0608 564.49 76.64)" font-size="23.47" fill="#4D4D4D">3</text>
<text transform="matrix(1.1230 0 0 1.0608 616.25 450.8)" font-size="23.47" fill="#4D4D4D">1800</text>
<text transform="matrix(1.1230 0 0 1.0608 681.25 450.8)" font-size="23.47" fill="#4D4D4D">1900</text>
<text transform="matrix(1.1275 0 0 1.0608 746.02 450.8)" font-size="23.47" fill="#4D4D4D">2000</text>
<text transform="matrix(1.1275 0 0 1.0608 811.02 450.8)" font-size="23.47" fill="#4D4D4D">2100</text>
<text transform="matrix(1.1275 0 0 1.0608 876.02 450.8)" font-size="23.47" fill="#4D4D4D">2200</text>
<text transform="matrix(1.1275 0 0 1.0608 941.02 450.8)" font-size="23.47" fill="#4D4D4D">2300</text>
<text transform="matrix(1.1102 0 0 1.0528 730.73 45.85)" font-size="23.47" fill="#1A1A1A">global_tas</text>
<clipPath id="clip3"><rect x="121.66" y="514.9" width="396.84" height="360.8"/></clipPath>
<rect x="121.66" y="469.9" width="396.84" height="45" fill="#D9D9D9"/>
<g clip-path="url(#clip3)">
<rect x="121.66" y="514.9" width="396.84" height="360.8" fill="#EBEBEB"/>
<line x1="121.66" x2="518.5" y1="817.77" y2="817.77" stroke="#fff" stroke-width="1.42"/>
<line x1="121.66" x2="518.5" y1="735.31" y2="735.31" stroke="#fff" stroke-width="1.42"/>
<line x1="121.66" x2="518.5" y1="652.85" y2="652.85" stroke="#fff" stroke-width="1.42"/>
<line x1="121.66" x2="518.5" y1="570.39" y2="570.39" stroke="#fff" stroke-width="1.42"/>
<line x1="142.97" x2="142.97" y1="514.9" y2="875.7" stroke="#fff" stroke-width="1.42"/>
<line x1="207.97" x2="207.97" y1="514.9" y2="875.7" stroke="#fff" stroke-width="1.42"/>
<line x1="272.97" x2="272.97" y1="514.9" y2="875.7" stroke="#fff" stroke-width="1.42"/>
<line x1="337.97" x2="337.97" y1="514.9" y2="875.7" stroke="#fff" stroke-width="1.42"/>
<line x1="402.97" x2="402.97" y1="514.9" y2="875.7" stroke="#fff" stroke-width="1.42"/>
<line x1="467.97" x2="467.97" y1="514.9" y2="875.7" stroke="#fff" stroke-width="1.42"/>
<line x1="121.66" x2="518.5" y1="859" y2="859" stroke="#fff" stroke-width="2.84"/>
<line x1="121.66" x2="518.5" y1="776.54" y2="776.54" stroke="#fff" stroke-width="2.84"/>
<line x1="121.66" x2="518.5" y1="694.08" y2="694.08" stroke="#fff" stroke-width="2.84"/>
<line x1="121.66" x2="518.5" y1="611.62" y2="611.62" stroke="#fff" stroke-width="2.84"/>
<line x1="121.66" x2="518.5" y1="529.16" y2="529.16" stroke="#fff" stroke-width="2.84"/>
<line x1="175.47" x2="175.47" y1="514.9" y2="875.7" stroke="#fff" stroke-width="2.84"/>
<line x1="240.47" x2="240.47" y1="514.9" y2="875.7" stroke="#fff" stroke-width="2.84"/>
<line x1="305.47" x2="305.47" y1="514.9" y2="875.7" stroke="#fff" stroke-width="2.84"/>
<line x1="370.47" x2="370.47" y1="514.9" y2="875.7" stroke="#fff" stroke-width="2.84"/>
<line x1="435.47" x2="435.47" y1="514.9" y2="875.7" stroke="#fff" stroke-width="2.84"/>
<line x1="500.47" x2="500.47" y1="514.9" y2="875.7" stroke="#fff" stroke-width="2.84"/>
<path d="M140.2 859.2 L150.9 858.6 L164 857.7 L167 859.5 L180.6 856.5 L183.6 857.7 L187.8 859.2 L195.5 855 L200.3 854.1 L201.56 853.19 L202.83 852.31 L204.11 851.45 L205.41 850.62 L206.72 849.81 L208.04 849.02 L209.37 848.24 L210.71 847.49 L212.05 846.75 L213.41 846.03 L214.77 845.32 L216.13 844.61 L217.5 843.92 L218.87 843.24 L220.25 842.56 L221.63 841.89 L223 841.22 L224.38 840.55 L225.76 839.88 L227.13 839.2 L228.5 838.53 L229.87 837.84 L231.23 837.15 L232.59 836.46 L233.94 835.75 L235.29 835.03 L236.62 834.29 L237.95 833.54 L239.27 832.78 L240.57 832 L241.87 831.2 L243.16 830.38 L244.44 829.56 L245.71 828.72 L246.98 827.86 L248.23 827 L249.49 826.12 L250.73 825.24 L251.97 824.34 L253.21 823.44 L254.44 822.52 L255.67 821.6 L256.89 820.67 L258.11 819.74 L259.33 818.8 L260.55 817.85 L261.76 816.9 L262.98 815.95 L264.19 815 L265.4 814.04 L266.62 813.08 L267.83 812.12 L269.04 811.17 L270.26 810.21 L271.48 809.25 L272.7 808.3 L273.72 807.13 L274.69 805.94 L275.61 804.72 L276.49 803.49 L277.32 802.23 L278.12 800.96 L278.89 799.67 L279.61 798.36 L280.31 797.04 L280.98 795.7 L281.62 794.35 L282.23 792.99 L282.82 791.62 L283.39 790.23 L283.94 788.84 L284.48 787.44 L285 786.03 L285.52 784.62 L286.02 783.2 L286.52 781.78 L287.01 780.36 L287.5 778.93 L287.99 777.51 L288.49 776.08 L288.98 774.66 L289.49 773.24 L290 771.82 L290.51 770.4 L291.02 768.98 L291.54 767.56 L292.06 766.15 L292.59 764.73 L293.11 763.32 L293.63 761.9 L294.16 760.49 L294.68 759.08 L295.21 757.66 L295.73 756.25 L296.25 754.84 L296.77 753.42 L297.29 752.01 L297.81 750.59 L298.32 749.17 L298.82 747.76 L299.32 746.34 L299.82 744.92 L300.31 743.49 L300.8 742.07 L301.28 740.65 L301.76 739.22 L302.23 737.8 L302.7 736.37 L303.16 734.94 L303.62 733.51 L304.07 732.08 L304.52 730.64 L304.97 729.21 L305.41 727.77 L305.84 726.34 L306.28 724.9 L306.71 723.46 L307.13 722.02 L307.55 720.58 L307.97 719.14 L308.38 717.69 L308.79 716.25 L309.19 714.8 L309.59 713.36 L309.99 711.91 L310.38 710.46 L310.77 709.01 L311.16 707.56 L311.54 706.11 L311.92 704.65 L312.3 703.2 L312.67 701.74 L313.04 700.29 L313.4 698.83 L313.77 697.37 L314.13 695.91 L314.48 694.45 L314.84 692.99 L315.19 691.53 L315.54 690.06 L315.88 688.6 L316.22 687.13 L316.56 685.67 L316.9 684.2 L317.23 682.73 L317.56 681.26 L317.89 679.79 L318.22 678.32 L318.54 676.85 L318.87 675.38 L319.19 673.9 L319.5 672.43 L319.82 670.96 L320.13 669.48 L320.45 668 L320.76 666.53 L321.06 665.05 L321.37 663.57 L321.67 662.1 L321.98 660.62 L322.28 659.14 L322.58 657.66 L322.88 656.18 L323.18 654.7 L323.47 653.23 L323.77 651.75 L324.06 650.27 L324.36 648.79 L324.65 647.31 L324.94 645.83 L325.23 644.35 L325.52 642.87 L325.81 641.39 L326.1 639.91 L326.39 638.43 L326.68 636.95 L326.97 635.47 L327.26 633.99 L327.54 632.51 L327.83 631.03 L328.12 629.55 L328.41 628.07 L328.7 626.59 L328.98 625.12 L329.27 623.64 L329.56 622.16 L329.85 620.69 L330.14 619.21 L330.43 617.73 L330.72 616.26 L331.01 614.79 L331.3 613.31 L331.59 611.84 L331.89 610.37 L332.18 608.9 L332.48 607.43 L332.77 605.96 L333.07 604.49 L333.37 603.02 L333.67 601.55 L333.97 600.09 L334.28 598.62 L334.58 597.16 L334.89 595.7 L335.2 594.24 L335.51 592.78 L335.82 591.32 L336.13 589.86 L336.45 588.4 L336.76 586.95 L337.09 585.49 L337.41 584.04 L337.74 582.59 L338.08 581.13 L338.42 579.68 L338.76 578.23 L339.12 576.79 L339.48 575.34 L339.85 573.89 L340.23 572.45 L340.62 571 L341.01 569.56 L341.42 568.11 L341.84 566.67 L342.28 565.23 L342.72 563.78 L343.18 562.34 L343.65 560.9 L344.13 559.46 L344.64 558.02 L345.15 556.58 L345.68 555.14 L346.23 553.7 L346.8 552.26 L347.39 550.82 L347.99 549.39 L348.61 547.95 L349.26 546.51 L349.92 545.07 L350.6 543.63 L351.31 542.19 L352.04 540.77 L352.8 539.38 L353.6 538.05 L354.43 536.81 L355.31 535.69 L356.24 534.71 L357.22 533.91 L358.26 533.3 L359.37 532.92 L360.55 532.79 L361.78 532.92 L363.04 533.29 L364.29 533.89 L365.5 534.7 L366.67 535.69 L367.79 536.81 L368.84 538.04 L369.84 539.32 L370.77 540.64 L371.65 541.96 L372.5 543.29 L373.37 544.6 L374.26 545.89 L375.2 547.15 L376.22 548.35 L377.32 549.5 L378.47 550.58 L379.69 551.57 L380.95 552.48 L382.26 553.28 L383.59 553.97 L384.95 554.53 L386.33 554.96 L387.71 555.24 L389.1 555.37 L390.49 555.37 L391.88 555.25 L393.28 555.01 L394.67 554.69 L396.08 554.3 L397.49 553.85 L398.9 553.35 L400.32 552.83 L401.75 552.3 L403.18 551.77 L404.62 551.25 L406.07 550.74 L407.53 550.24 L408.99 549.75 L410.45 549.27 L411.93 548.81 L413.4 548.36 L414.88 547.92 L416.37 547.5 L417.85 547.1 L419.34 546.72 L420.84 546.35 L422.33 546.01 L423.83 545.69 L425.33 545.38 L426.82 545.11 L428.32 544.85 L429.82 544.62 L431.32 544.42 L432.81 544.25 L434.31 544.1 L435.8 543.98 L437.29 543.9 L438.78 543.84 L440.26 543.82 L441.74 543.83 L443.21 543.87 L444.68 543.95 L446.15 544.07 L447.61 544.22 L449.06 544.42 L450.51 544.65 L451.95 544.92 L453.38 545.23 L454.81 545.59 L456.23 545.99 L457.63 546.43 L459.03 546.91 L460.43 547.42 L461.81 547.98 L463.19 548.56 L464.57 549.18 L465.93 549.82 L467.3 550.49 L468.65 551.18 L470 551.89 L471.35 552.63 L472.69 553.37 L474.03 554.14 L475.36 554.91 L476.69 555.69 L478.02 556.48 L479.35 557.28 L480.67 558.07 L481.99 558.87 L483.31 559.66 L484.63 560.45 L485.95 561.23 L487.27 562.01 L488.59 562.77 L489.9 563.51 L491.22 564.24 L492.54 564.96 L493.86 565.65 L495.19 566.31 L496.51 566.95 L497.84 567.57 L499.17 568.15 L500.5 568.7" fill="none" stroke="#F8766D" stroke-width="2.84" stroke-linejoin="round" stroke-linecap="butt"/>
<path d="M140.2 859.2 L150.9 858.6 L164 857.7 L167 859.5 L180.6 856.5 L183.6 857.7 L187.8 859.2 L195.5 855 L200.3 854.1 L201.56 853.19 L202.83 852.31 L204.11 851.45 L205.41 850.62 L206.72 849.81 L208.04 849.02 L209.37 848.24 L210.71 847.49 L212.05 846.75 L213.41 846.03 L214.77 845.32 L216.13 844.61 L217.5 843.92 L218.87 843.24 L220.25 842.56 L221.63 841.89 L223 841.22 L224.38 840.55 L225.76 839.88 L227.13 839.2 L228.5 838.53 L229.87 837.84 L231.23 837.15 L232.59 836.46 L233.94 835.75 L235.29 835.03 L236.62 834.29 L237.95 833.54 L239.27 832.78 L240.57 832 L241.87 831.2 L243.16 830.38 L244.44 829.56 L245.71 828.72 L246.98 827.86 L248.23 827 L249.49 826.12 L250.73 825.24 L251.97 824.34 L253.21 823.44 L254.44 822.52 L255.67 821.6 L256.89 820.67 L258.11 819.74 L259.33 818.8 L260.55 817.85 L261.76 816.9 L262.98 815.95 L264.19 815 L265.4 814.04 L266.62 813.08 L267.83 812.12 L269.04 811.17 L270.26 810.21 L271.48 809.25 L272.7 808.3 L273.72 807.13 L274.69 805.94 L275.61 804.72 L276.49 803.49 L277.32 802.23 L278.12 800.96 L278.89 799.67 L279.61 798.36 L280.31 797.04 L280.98 795.7 L281.62 794.35 L282.23 792.99 L282.82 791.62 L283.39 790.23 L283.94 788.84 L284.48 787.44 L285 786.03 L285.52 784.62 L286.02 783.2 L286.52 781.78 L287.01 780.36 L287.5 778.93 L287.99 777.51 L288.49 776.08 L288.98 774.66 L289.49 773.24 L290 771.82 L290.51 770.4 L291.02 768.98 L291.54 767.56 L292.06 766.15 L292.59 764.73 L293.11 763.32 L293.63 761.9 L294.16 760.49 L294.68 759.08 L295.21 757.66 L295.73 756.25 L296.25 754.84 L296.77 753.42 L297.29 752.01 L297.81 750.59 L298.32 749.17 L298.82 747.76 L299.32 746.34 L299.82 744.92 L300.31 743.49 L300.8 742.07 L301.28 740.65 L301.76 739.22 L302.23 737.8 L302.7 736.37 L303.16 734.94 L303.62 733.51 L304.07 732.08 L304.52 730.64 L304.97 729.21 L305.41 727.77 L305.84 726.34 L306.28 724.9 L306.71 723.46 L307.13 722.02 L307.55 720.58 L307.97 719.14 L308.38 717.69 L308.79 716.25 L309.19 714.8 L309.59 713.36 L309.99 711.91 L310.38 710.46 L310.77 709.01 L311.16 707.56 L311.54 706.11 L311.92 704.65 L312.3 703.2 L312.67 701.74 L313.04 700.29 L313.4 698.83 L313.77 697.37 L314.13 695.91 L314.48 694.45 L314.84 692.99 L315.19 691.53 L315.54 690.06 L315.88 688.6 L316.22 687.13 L316.56 685.67 L316.9 684.2 L317.23 682.73 L317.56 681.26 L317.89 679.79 L318.22 678.32 L318.54 676.85 L318.87 675.38 L319.19 673.9 L319.5 672.43 L319.82 670.96 L320.13 669.48 L320.45 668 L320.76 666.53 L321.06 665.05 L321.37 663.57 L321.67 662.1 L321.98 660.62 L322.28 659.14 L322.58 657.66 L322.88 656.18 L323.18 654.7 L323.47 653.23 L323.77 651.75 L324.06 650.27 L324.36 648.79 L324.65 647.31 L324.94 645.83 L325.23 644.35 L325.52 642.87 L325.81 641.39 L326.1 639.91 L326.39 638.43 L326.68 636.95 L326.97 635.47 L327.26 633.99 L327.54 632.51 L327.83 631.03 L328.12 629.55 L328.41 628.07 L328.7 626.59 L328.98 625.12 L329.27 623.64 L329.56 622.16 L329.85 620.69 L330.14 619.21 L330.43 617.73 L330.72 616.26 L331.01 614.79 L331.3 613.31 L331.59 611.84 L331.89 610.37 L332.18 608.9 L332.48 607.43 L332.77 605.96 L333.07 604.49 L333.37 603.02 L333.67 601.55 L333.97 600.09 L334.28 598.62 L334.58 597.16 L334.89 595.7 L335.2 594.24 L335.51 592.78 L335.82 591.32 L336.13 589.86 L336.45 588.4 L336.76 586.95 L337.09 585.49 L337.41 584.04 L337.74 582.59 L338.08 581.13 L338.42 579.68 L338.76 578.23 L339.12 576.79 L339.48 575.34 L339.85 573.89 L340.23 572.45 L340.62 571 L341.01 569.56 L341.42 568.11 L341.84 566.67 L342.28 565.23 L342.72 563.78 L343.18 562.34 L343.65 560.9 L344.13 559.46 L344.64 558.02 L345.15 556.58 L345.68 555.14 L346.23 553.7 L346.8 552.26 L347.39 550.82 L347.99 549.39 L348.61 547.95 L349.26 546.51 L349.92 545.07 L350.6 543.63 L351.31 542.19 L352.04 540.77 L352.8 539.38 L353.6 538.05 L354.43 536.81 L355.31 535.69 L356.24 534.71 L357.22 533.91 L358.26 533.3 L359.37 532.92 L360.55 532.79 L361.78 532.92 L363.04 533.29 L364.29 533.89 L365.5 534.7 L366.67 535.69 L367.79 536.81 L368.84 538.04 L369.84 539.32 L370.77 540.64 L371.65 541.96 L372.5 543.29 L373.37 544.6 L374.26 545.89 L375.2 547.15 L376.22 548.35 L377.32 549.5 L378.47 550.58 L379.69 551.57 L380.95 552.48 L382.26 553.28 L383.59 553.97 L384.95 554.53 L386.33 554.96 L387.71 555.24 L389.1 555.37 L390.49 555.37 L391.88 555.25 L393.28 555.01 L394.67 554.69 L396.08 554.3 L397.49 553.85 L398.9 553.35 L400.32 552.83 L401.75 552.3 L403.18 551.77 L404.62 551.25 L406.07 550.74 L407.53 550.24 L408.99 549.75 L410.45 549.27 L411.93 548.81 L413.4 548.36 L414.88 547.92 L416.37 547.5 L417.85 547.1 L419.34 546.72 L420.84 546.35 L422.33 546.01 L423.83 545.69 L425.33 545.38 L426.82 545.11 L428.32 544.85 L429.82 544.62 L431.32 544.42 L432.81 544.25 L434.31 544.1 L435.8 543.98 L437.29 543.9 L438.78 543.84 L440.26 543.82 L441.74 543.83 L443.21 543.87 L444.68 543.95 L446.15 544.07 L447.61 544.22 L449.06 544.42 L450.51 544.65 L451.95 544.92 L453.38 545.23 L454.81 545.59 L456.23 545.99 L457.63 546.43 L459.03 546.91 L460.43 547.42 L461.81 547.98 L463.19 548.56 L464.57 549.18 L465.93 549.82 L467.3 550.49 L468.65 551.18 L470 551.89 L471.35 552.63 L472.69 553.37 L474.03 554.14 L475.36 554.91 L476.69 555.69 L478.02 556.48 L479.35 557.28 L480.67 558.07 L481.99 558.87 L483.31 559.66 L484.63 560.45 L485.95 561.23 L487.27 562.01 L488.59 562.77 L489.9 563.51 L491.22 564.24 L492.54 564.96 L493.86 565.65 L495.19 566.31 L496.51 566.95 L497.84 567.57 L499.17 568.15 L500.5 568.7" fill="none" stroke="#00BFC4" stroke-width="2.84" stroke-linejoin="round" stroke-linecap="butt"/>
</g>
<line x1="114.33" x2="121.66" y1="859" y2="859" stroke="#333333" stroke-width="2.84"/>
<line x1="114.33" x2="121.66" y1="776.54" y2="776.54" stroke="#333333" stroke-width="2.84"/>
<line x1="114.33" x2="121.66" y1="694.08" y2="694.08" stroke="#333333" stroke-width="2.84"/>
<line x1="114.33" x2="121.66" y1="611.62" y2="611.62" stroke="#333333" stroke-width="2.84"/>
<line x1="114.33" x2="121.66" y1="529.16" y2="529.16" stroke="#333333" stroke-width="2.84"/>
<line x1="175.47" x2="175.47" y1="875.7" y2="883.03" stroke="#333333" stroke-width="2.84"/>
<line x1="240.47" x2="240.47" y1="875.7" y2="883.03" stroke="#333333" stroke-width="2.84"/>
<line x1="305.47" x2="305.47" y1="875.7" y2="883.03" stroke="#333333" stroke-width="2.84"/>
<line x1="370.47" x2="370.47" y1="875.7" y2="883.03" stroke="#333333" stroke-width="2.84"/>
<line x1="435.47" x2="435.47" y1="875.7" y2="883.03" stroke="#333333" stroke-width="2.84"/>
<line x1="500.47" x2="500.47" y1="875.7" y2="883.03" stroke="#333333" stroke-width="2.84"/>
<text transform="matrix(1.0531 0 0 1.0608 94.06 867.36)" font-size="23.47" fill="#4D4D4D">0</text>
<text transform="matrix(1.0099 0 0 1.0554 94.29 784.9)" font-size="23.47" fill="#4D4D4D">1</text>
<text transform="matrix(1.0187 0 0 1.0608 93.99 702.44)" font-size="23.47" fill="#4D4D4D">2</text>
<text transform="matrix(1.0180 0 0 1.0608 94.39 619.98)" font-size="23.47" fill="#4D4D4D">3</text>
<text transform="matrix(1.0504 0 0 1.0554 94.08 537.52)" font-size="23.47" fill="#4D4D4D">4</text>
<text transform="matrix(1.1230 0 0 1.0608 146.15 905.8)" font-size="23.47" fill="#4D4D4D">1800</text>
<text transform="matrix(1.1230 0 0 1.0608 211.15 905.8)" font-size="23.47" fill="#4D4D4D">1900</text>
<text transform="matrix(1.1275 0 0 1.0608 275.92 905.8)" font-size="23.47" fill="#4D4D4D">2000</text>
<text transform="matrix(1.1275 0 0 1.0608 340.92 905.8)" font-size="23.47" fill="#4D4D4D">2100</text>
<text transform="matrix(1.1275 0 0 1.0608 405.92 905.8)" font-size="23.47" fill="#4D4D4D">2200</text>
<text transform="matrix(1.1275 0 0 1.0608 470.92 905.8)" font-size="23.47" fill="#4D4D4D">2300</text>
<text transform="matrix(0.9677 0 0 1.0608 274.81 500.65)" font-size="23.47" fill="#1A1A1A">RF_CO2</text>
<clipPath id="clip4"><rect x="591.76" y="514.9" width="396.84" height="360.8"/></clipPath>
<rect x="591.76" y="469.9" width="396.84" height="45" fill="#D9D9D9"/>
<g clip-path="url(#clip4)">
<rect x="591.76" y="514.9" width="396.84" height="360.8" fill="#EBEBEB"/>
<line x1="591.76" x2="988.6" y1="833.22" y2="833.22" stroke="#fff" stroke-width="1.42"/>
<line x1="591.76" x2="988.6" y1="743.27" y2="743.27" stroke="#fff" stroke-width="1.42"/>
<line x1="591.76" x2="988.6" y1="653.32" y2="653.32" stroke="#fff" stroke-width="1.42"/>
<line x1="591.76" x2="988.6" y1="563.38" y2="563.38" stroke="#fff" stroke-width="1.42"/>
<line x1="613.07" x2="613.07" y1="514.9" y2="875.7" stroke="#fff" stroke-width="1.42"/>
<line x1="678.07" x2="678.07" y1="514.9" y2="875.7" stroke="#fff" stroke-width="1.42"/>
<line x1="743.07" x2="743.07" y1="514.9" y2="875.7" stroke="#fff" stroke-width="1.42"/>
<line x1="808.07" x2="808.07" y1="514.9" y2="875.7" stroke="#fff" stroke-width="1.42"/>
<line x1="873.07" x2="873.07" y1="514.9" y2="875.7" stroke="#fff" stroke-width="1.42"/>
<line x1="938.07" x2="938.07" y1="514.9" y2="875.7" stroke="#fff" stroke-width="1.42"/>
<line x1="591.76" x2="988.6" y1="788.25" y2="788.25" stroke="#fff" stroke-width="2.84"/>
<line x1="591.76" x2="988.6" y1="698.3" y2="698.3" stroke="#fff" stroke-width="2.84"/>
<line x1="591.76" x2="988.6" y1="608.35" y2="608.35" stroke="#fff" stroke-width="2.84"/>
<line x1="591.76" x2="988.6" y1="518.4" y2="518.4" stroke="#fff" stroke-width="2.84"/>
<line x1="645.57" x2="645.57" y1="514.9" y2="875.7" stroke="#fff" stroke-width="2.84"/>
<line x1="710.57" x2="710.57" y1="514.9" y2="875.7" stroke="#fff" stroke-width="2.84"/>
<line x1="775.57" x2="775.57" y1="514.9" y2="875.7" stroke="#fff" stroke-width="2.84"/>
<line x1="840.57" x2="840.57" y1="514.9" y2="875.7" stroke="#fff" stroke-width="2.84"/>
<line x1="905.57" x2="905.57" y1="514.9" y2="875.7" stroke="#fff" stroke-width="2.84"/>
<line x1="970.57" x2="970.57" y1="514.9" y2="875.7" stroke="#fff" stroke-width="2.84"/>
<path d="M610.2 698 L614.3 697.6 L616.7 706.2 L619.8 697.4 L621.1 729.9 L624 713 L626.8 703.6 L628.6 697.8 L633.9 697.5 L635.3 828 L637.2 698.5 L638.6 697.9 L641.1 697.1 L644 705.4 L647.1 696.3 L649.9 696 L651.6 824 L653.2 698.5 L654.6 697.9 L655.9 858.4 L658.2 702 L658.8 699.3 L660.7 713.9 L663.8 696.1 L665.2 696.5 L665.9 782.7 L667.3 702.4 L668.2 702.4 L669.3 763.75 L671.1 697.2 L673.7 694.1 L675.5 701.9 L678.9 693 L680.5 701.5 L684.2 701.9 L686 721.7 L688.6 693.5 L690.4 691 L693.2 699.3 L696.25 690.9 L699.4 690.5 L700.4 762.2 L701.8 692 L703 691 L705.1 700.8 L707.2 690.4 L711.2 690.9 L712.7 723.2 L714.2 692 L716 698.2 L717.6 691.5 L719.2 710.7 L720.8 691.5 L724.4 687.8 L725.9 693 L728.2 687.3 L729.4 696.25 L731.75 686.9 L734.6 686.9 L738.3 689.7 L740.7 685 L743 687.8 L746.75 686.4 L750 687.8 L751.9 722.5 L753.3 692.5 L756.1 689.7 L758 684.1 L759.4 693.4 L761.3 676.6 L763.6 674.7 L764.6 697.2 L768.3 658.75 L769.7 657.8 L770.7 719.2 L772.5 649.4 L774.5 641.6 L779.6 636.7 L781.4 628.7 L784.7 620.6 L785.8 613.3 L788.3 603.9 L791.3 600.2 L792.04 598.98 L792.76 597.74 L793.45 596.47 L794.11 595.18 L794.76 593.87 L795.38 592.53 L795.99 591.18 L796.57 589.81 L797.14 588.42 L797.7 587.02 L798.24 585.6 L798.78 584.17 L799.3 582.73 L799.82 581.28 L800.32 579.82 L800.83 578.35 L801.33 576.88 L801.83 575.4 L802.33 573.92 L802.83 572.44 L803.33 570.96 L803.84 569.48 L804.35 568 L804.87 566.53 L805.4 565.06 L805.95 563.6 L806.5 562.14 L807.07 560.7 L807.65 559.26 L808.25 557.84 L808.87 556.44 L809.51 555.04 L810.17 553.67 L810.86 552.31 L811.57 550.97 L812.31 549.65 L813.07 548.35 L813.87 547.08 L814.69 545.83 L815.55 544.6 L816.44 543.4 L817.37 542.24 L818.34 541.1 L819.35 539.99 L820.39 538.92 L821.48 537.88 L822.61 536.9 L823.77 535.98 L824.96 535.13 L826.19 534.37 L827.44 533.7 L828.72 533.15 L830.02 532.72 L831.34 532.43 L832.68 532.28 L834.04 532.29 L835.41 532.44 L836.79 532.73 L838.18 533.12 L839.59 533.61 L841 534.17 L842.43 534.78 L843.86 535.42 L845.3 536.07 L846.75 536.72 L848.2 537.35 L849.65 537.92 L851.11 538.44 L852.57 538.91 L854.04 539.32 L855.51 539.68 L856.98 539.99 L858.45 540.26 L859.93 540.49 L861.41 540.67 L862.89 540.82 L864.38 540.93 L865.87 541.01 L867.36 541.06 L868.85 541.09 L870.34 541.09 L871.84 541.07 L873.34 541.03 L874.84 540.97 L876.35 540.9 L877.85 540.82 L879.36 540.74 L880.87 540.64 L882.38 540.55 L883.89 540.45 L885.41 540.36 L886.92 540.27 L888.44 540.19 L889.95 540.12 L891.47 540.06 L892.99 540.01 L894.51 539.98 L896.03 539.97 L897.55 539.97 L899.07 539.98 L900.58 540.02 L902.1 540.07 L903.61 540.14 L905.12 540.24 L906.63 540.35 L908.14 540.48 L909.64 540.64 L911.13 540.81 L912.63 541.02 L914.11 541.24 L915.6 541.5 L917.07 541.77 L918.55 542.08 L920.01 542.41 L921.47 542.77 L922.92 543.15 L924.37 543.56 L925.82 543.99 L927.26 544.43 L928.69 544.9 L930.12 545.38 L931.55 545.87 L932.98 546.37 L934.4 546.89 L935.83 547.41 L937.25 547.94 L938.67 548.48 L940.09 549.02 L941.51 549.56 L942.93 550.1 L944.35 550.64 L945.77 551.18 L947.19 551.71 L948.62 552.23 L950.04 552.74 L951.47 553.24 L952.91 553.73 L954.34 554.21 L955.78 554.67 L957.23 555.11 L958.68 555.53 L960.13 555.94 L961.59 556.31 L963.06 556.67 L964.53 556.99 L966.01 557.29 L967.5 557.56 L969 557.8 L970.5 558" fill="none" stroke="#F8766D" stroke-width="2.84" stroke-linejoin="round" stroke-linecap="butt"/>
<path d="M610.2 698 L614.3 697.6 L616.7 706.2 L619.8 697.4 L621.1 729.9 L624 713 L626.8 703.6 L628.6 697.8 L633.9 697.5 L635.3 828 L637.2 698.5 L638.6 697.9 L641.1 697.1 L644 705.4 L647.1 696.3 L649.9 696 L651.6 824 L653.2 698.5 L654.6 697.9 L655.9 858.4 L658.2 702 L658.8 699.3 L660.7 713.9 L663.8 696.1 L665.2 696.5 L665.9 782.7 L667.3 702.4 L668.2 702.4 L669.3 763.75 L671.1 697.2 L673.7 694.1 L675.5 701.9 L678.9 693 L680.5 701.5 L684.2 701.9 L686 721.7 L688.6 693.5 L690.4 691 L693.2 699.3 L696.25 690.9 L699.4 690.5 L700.4 762.2 L701.8 692 L703 691 L705.1 700.8 L707.2 690.4 L711.2 690.9 L712.7 723.2 L714.2 692 L716 698.2 L717.6 691.5 L719.2 710.7 L720.8 691.5 L724.4 687.8 L725.9 693 L728.2 687.3 L729.4 696.25 L731.75 686.9 L734.6 686.9 L738.3 689.7 L740.7 685 L743 687.8 L746.75 686.4 L750 687.8 L751.9 722.5 L753.3 692.5 L756.1 689.7 L758 684.1 L759.4 693.4 L761.3 676.6 L763.6 674.7 L764.6 697.2 L768.3 658.75 L769.7 657.8 L770.7 719.2 L772.5 649.4 L774.5 641.6 L779.6 636.7 L781.4 628.7 L784.7 620.6 L785.8 613.3 L788.3 603.9 L791.3 600.2 L792.04 598.98 L792.76 597.74 L793.45 596.47 L794.11 595.18 L794.76 593.87 L795.38 592.53 L795.99 591.18 L796.57 589.81 L797.14 588.42 L797.7 587.02 L798.24 585.6 L798.78 584.17 L799.3 582.73 L799.82 581.28 L800.32 579.82 L800.83 578.35 L801.33 576.88 L801.83 575.4 L802.33 573.92 L802.83 572.44 L803.33 570.96 L803.84 569.48 L804.35 568 L804.87 566.53 L805.4 565.06 L805.95 563.6 L806.5 562.14 L807.07 560.7 L807.65 559.26 L808.25 557.84 L808.87 556.44 L809.51 555.04 L810.17 553.67 L810.86 552.31 L811.57 550.97 L812.31 549.65 L813.07 548.35 L813.87 547.08 L814.69 545.83 L815.55 544.6 L816.44 543.4 L817.37 542.24 L818.34 541.1 L819.35 539.99 L820.39 538.92 L821.48 537.88 L822.61 536.9 L823.77 535.98 L824.96 535.13 L826.19 534.37 L827.44 533.7 L828.72 533.15 L830.02 532.72 L831.34 532.43 L832.68 532.28 L834.04 532.29 L835.41 532.44 L836.79 532.73 L838.18 533.12 L839.59 533.61 L841 534.17 L842.43 534.78 L843.86 535.42 L845.3 536.07 L846.75 536.72 L848.2 537.35 L849.65 537.92 L851.11 538.44 L852.57 538.91 L854.04 539.32 L855.51 539.68 L856.98 539.99 L858.45 540.26 L859.93 540.49 L861.41 540.67 L862.89 540.82 L864.38 540.93 L865.87 541.01 L867.36 541.06 L868.85 541.09 L870.34 541.09 L871.84 541.07 L873.34 541.03 L874.84 540.97 L876.35 540.9 L877.85 540.82 L879.36 540.74 L880.87 540.64 L882.38 540.55 L883.89 540.45 L885.41 540.36 L886.92 540.27 L888.44 540.19 L889.95 540.12 L891.47 540.06 L892.99 540.01 L894.51 539.98 L896.03 539.97 L897.55 539.97 L899.07 539.98 L900.58 540.02 L902.1 540.07 L903.61 540.14 L905.12 540.24 L906.63 540.35 L908.14 540.48 L909.64 540.64 L911.13 540.81 L912.63 541.02 L914.11 541.24 L915.6 541.5 L917.07 541.77 L918.55 542.08 L920.01 542.41 L921.47 542.77 L922.92 543.15 L924.37 543.56 L925.82 543.99 L927.26 544.43 L928.69 544.9 L930.12 545.38 L931.55 545.87 L932.98 546.37 L934.4 546.89 L935.83 547.41 L937.25 547.94 L938.67 548.48 L940.09 549.02 L941.51 549.56 L942.93 550.1 L944.35 550.64 L945.77 551.18 L947.19 551.71 L948.62 552.23 L950.04 552.74 L951.47 553.24 L952.91 553.73 L954.34 554.21 L955.78 554.67 L957.23 555.11 L958.68 555.53 L960.13 555.94 L961.59 556.31 L963.06 556.67 L964.53 556.99 L966.01 557.29 L967.5 557.56 L969 557.8 L970.5 558" fill="none" stroke="#00BFC4" stroke-width="2.84" stroke-linejoin="round" stroke-linecap="butt"/>
</g>
<line x1="584.43" x2="591.76" y1="788.25" y2="788.25" stroke="#333333" stroke-width="2.84"/>
<line x1="584.43" x2="591.76" y1="698.3" y2="698.3" stroke="#333333" stroke-width="2.84"/>
<line x1="584.43" x2="591.76" y1="608.35" y2="608.35" stroke="#333333" stroke-width="2.84"/>
<line x1="584.43" x2="591.76" y1="518.4" y2="518.4" stroke="#333333" stroke-width="2.84"/>
<line x1="645.57" x2="645.57" y1="875.7" y2="883.03" stroke="#333333" stroke-width="2.84"/>
<line x1="710.57" x2="710.57" y1="875.7" y2="883.03" stroke="#333333" stroke-width="2.84"/>
<line x1="775.57" x2="775.57" y1="875.7" y2="883.03" stroke="#333333" stroke-width="2.84"/>
<line x1="840.57" x2="840.57" y1="875.7" y2="883.03" stroke="#333333" stroke-width="2.84"/>
<line x1="905.57" x2="905.57" y1="875.7" y2="883.03" stroke="#333333" stroke-width="2.84"/>
<line x1="970.57" x2="970.57" y1="875.7" y2="883.03" stroke="#333333" stroke-width="2.84"/>
<text transform="matrix(1.1062 0 0 1.0608 532.7 796.61)" font-size="23.47" fill="#4D4D4D">-2.5</text>
<text transform="matrix(1.1133 0 0 1.0608 541.69 706.66)" font-size="23.47" fill="#4D4D4D">0.0</text>
<text transform="matrix(1.1049 0 0 1.0608 541.56 616.71)" font-size="23.47" fill="#4D4D4D">2.5</text>
<text transform="matrix(1.1071 0 0 1.0608 541.88 526.76)" font-size="23.47" fill="#4D4D4D">5.0</text>
<text transform="matrix(1.1230 0 0 1.0608 616.25 905.8)" font-size="23.47" fill="#4D4D4D">1800</text>
<text transform="matrix(1.1230 0 0 1.0608 681.25 905.8)" font-size="23.47" fill="#4D4D4D">1900</text>
<text transform="matrix(1.1275 0 0 1.0608 746.02 905.8)" font-size="23.47" fill="#4D4D4D">2000</text>
<text transform="matrix(1.1275 0 0 1.0608 811.02 905.8)" font-size="23.47" fill="#4D4D4D">2100</text>
<text transform="matrix(1.1275 0 0 1.0608 876.02 905.8)" font-size="23.47" fill="#4D4D4D">2200</text>
<text transform="matrix(1.1275 0 0 1.0608 941.02 905.8)" font-size="23.47" fill="#4D4D4D">2300</text>
<text transform="matrix(1.0453 0 0 1.0554 753.29 500.65)" font-size="23.47" fill="#1A1A1A">RF_tot</text>
<text transform="matrix(1.1418 0 0 1.0381 523.95 938.8)" font-size="29.33" fill="#000">year</text>
<text transform="translate(36.1 508.22) rotate(-90) matrix(1.1312 0 0 1.0520 0.78 0)" font-size="29.33" fill="#000">value</text>
<text transform="matrix(1.1113 0 0 1.0520 1033.27 424.8)" font-size="29.33" fill="#000">scenario</text>
<rect x="1032.8" y="442.9" width="46.16" height="45.95" fill="#F2F2F2"/>
<rect x="1032.8" y="488.85" width="46.16" height="45.95" fill="#F2F2F2"/>
<line x1="1037" x2="1074.2" y1="465.5" y2="465.5" stroke="#F8766D" stroke-width="2.84"/>
<line x1="1037" x2="1074.2" y1="511.7" y2="511.7" stroke="#00BFC4" stroke-width="2.84"/>
<text transform="matrix(1.1317 0 0 1.0528 1093.21 473.85)" font-size="23.47" fill="#000">ssp245-default</text>
<text transform="matrix(1.1281 0 0 1.0528 1093.21 519.9)" font-size="23.47" fill="#000">ssp245-permafrost</text>
</svg></body></html>
